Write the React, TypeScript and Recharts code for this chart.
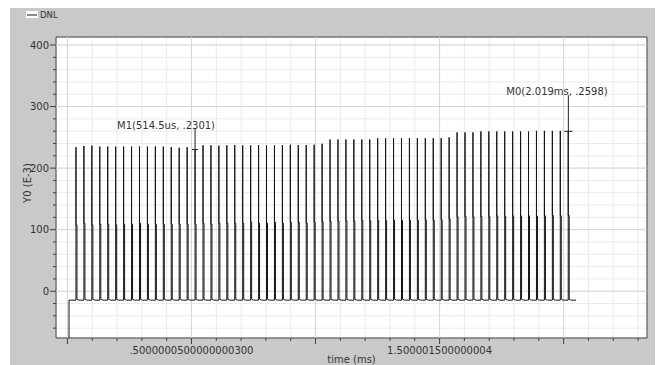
import React from 'react';
import {
  LineChart,
  Line,
  XAxis,
  YAxis,
  CartesianGrid,
  ReferenceLine,
  ReferenceArea,
  ReferenceDot,
  Legend,
} from 'recharts';

// ---------- data ----------
const seriesName = 'DNL';
const xAxisTitle = 'time (ms)';
const yAxisTitle = 'Y0 (E-3)';

// pulse times (ms)
const pulseTimes = [
  0.0345, 0.0665, 0.0985, 0.1305, 0.1625, 0.1945, 0.2265, 0.2585, 0.2905, 0.3225,
  0.3545, 0.3865, 0.4185, 0.4505, 0.4825, 0.5145, 0.5465, 0.5785, 0.6105, 0.6425,
  0.6745, 0.7065, 0.7385, 0.7705, 0.8025, 0.8345, 0.8665, 0.8985, 0.9305, 0.9625,
  0.9945, 1.0265, 1.0585, 1.0905, 1.1225, 1.1545, 1.1865, 1.2185, 1.2505, 1.2825,
  1.3145, 1.3465, 1.3785, 1.4105, 1.4425, 1.4745, 1.5065, 1.5385, 1.5705, 1.6025,
  1.6345, 1.6665, 1.6985, 1.7305, 1.7625, 1.7945, 1.8265, 1.8585, 1.8905, 1.9225,
  1.9545, 1.9865, 2.0185,
];

// tall (thin) spike peaks, E-3
const tallPeaks = [
  234, 236, 236.6, 235, 235, 235, 235, 235, 235, 235,
  235, 235, 234, 233, 234, 230.1, 237, 237, 236.5, 237,
  237.5, 237, 237, 237.5, 237, 237, 237.5, 238, 237.5, 237.5,
  238, 239.5, 246.5, 246.5, 246.5, 246.5, 246.5, 246.5, 248.5, 248.5,
  248.5, 248.5, 248.5, 248.5, 248.5, 248.5, 248.5, 250, 258, 258,
  258, 259.5, 259.5, 259.5, 259.5, 259.5, 259.5, 259.5, 260.5, 260.5,
  260.5, 260.5, 259.8,
];

// thick (lower) pulse levels, E-3
const thickPeaks = [
  107.8, 110.5, 107.8, 108.9, 108.9, 107.8, 108.9, 108.9, 110.5, 108.9,
  108.9, 108.9, 108.9, 108.9, 108.9, 108.9, 110.5, 108.9, 110.5, 110.5,
  110.5, 110.5, 112.2, 110.5, 110.5, 112.2, 110.5, 112.2, 112.2, 110.5,
  112.2, 113, 114, 114, 114.5, 114, 115, 114.5, 115, 115,
  115.5, 115, 115.5, 115.5, 116, 115.5, 116, 117.5, 121, 121.5,
  121, 121.5, 121.5, 122, 121.5, 122, 122, 122.5, 122, 122.5,
  123, 122.5, 123,
];

const baseLevel = -14.5;
const hatLevel = -13;
const startTime = 0.0065;
const endTime = 2.05;

// markers
const markerTimes = [0.5145, 2.019];
const markerValues = [230.1, 259.8];
const markerLabels = ['M1(514.5us, .2301)', 'M0(2.019ms, .2598)'];

// axes
const xDomain = [-0.046, 2.336];
const yDomain = [-76, 413];
const xTicks = [0, 0.1, 0.2, 0.3, 0.4, 0.5, 0.6, 0.7, 0.8, 0.9, 1.0, 1.1, 1.2, 1.3, 1.4, 1.5, 1.6, 1.7, 1.8, 1.9, 2.0, 2.1, 2.2, 2.3];
const xMajorTicks = [0, 0.5, 1.0, 1.5, 2.0];
const xTickLabelValues = [0.5, 1.5];
const xTickLabelTexts = ['.5000000500000000300', '1.500001500000004'];
const yTicks = [-60, -40, -20, 0, 20, 40, 60, 80, 100, 120, 140, 160, 180, 200, 220, 240, 260, 280, 300, 320, 340, 360, 380, 400];
const yMajorTicks = [0, 100, 200, 300, 400];

// ---------- styles ----------
const FONT = '"DejaVu Sans", Verdana, sans-serif';
const TEXT = '#333333';
const PULSE_W = 0.004;
const HAT_W = 0.012;
const markerStyles = [
  { stem: 21, tick: 3, dx: -78, dy: -2.6 },
  { stem: 36, tick: 4, dx: -62, dy: -4.3 },
];

// ---------- table for the library ----------
const waveData: { t: number; v: number }[] = [];
waveData.push({ t: startTime, v: yDomain[0] });
waveData.push({ t: startTime, v: baseLevel });
pulseTimes.forEach((t, i) => {
  waveData.push({ t, v: baseLevel });
  waveData.push({ t, v: tallPeaks[i] });
  waveData.push({ t, v: thickPeaks[i] });
  waveData.push({ t: t + PULSE_W, v: thickPeaks[i] });
  waveData.push({ t: t + PULSE_W, v: hatLevel });
  waveData.push({ t: t + HAT_W, v: baseLevel });
});
waveData.push({ t: endTime, v: baseLevel });

const near = (a: number, b: number) => Math.abs(a - b) < 1e-6;

const XTick = (props: any) => {
  const { x, y, payload } = props;
  const v = payload.value;
  const major = xMajorTicks.some((m) => near(m, v));
  const li = xTickLabelValues.findIndex((m) => near(m, v));
  return (
    <g>
      <line x1={x} x2={x} y1={y} y2={y + (major ? 6 : 3)} stroke="#404040" />
      {li >= 0 && (
        <text x={x} y={y + 12} textAnchor="middle" dominantBaseline="central" fontSize={10} fill={TEXT}>
          {xTickLabelTexts[li]}
        </text>
      )}
    </g>
  );
};

const YTick = (props: any) => {
  const { x, y, payload } = props;
  const v = payload.value;
  const major = yMajorTicks.some((m) => near(m, v));
  return (
    <g>
      <line x1={x - (major ? 6 : 3)} x2={x} y1={y} y2={y} stroke="#404040" />
      {major && (
        <text x={x - 7} y={y} textAnchor="end" dominantBaseline="central" fontSize={10} fill={TEXT}>
          {String(v)}
        </text>
      )}
    </g>
  );
};

const makeMarker = (i: number) => (props: any) => {
  const { cx, cy } = props;
  const s = markerStyles[i];
  const top = cy - s.stem;
  return (
    <g>
      <line x1={cx} x2={cx} y1={top} y2={cy} stroke="#222" />
      <line x1={cx - s.tick} x2={cx + s.tick} y1={cy} y2={cy} stroke="#222" />
      <text x={cx + s.dx} y={top + s.dy} dominantBaseline="central" fontSize={10} fill={TEXT}>
        {markerLabels[i]}
      </text>
    </g>
  );
};

const LegendContent = () => (
  <div style={{ position: 'relative', width: 50, height: 14, fontFamily: FONT }}>
    <div style={{ position: 'absolute', left: 0, top: 3, width: 12, height: 7, background: '#ffffff' }}>
      <div style={{ position: 'absolute', left: 1, right: 1, top: 2.5, height: 2, background: '#8c8c8c' }} />
    </div>
    <span style={{ position: 'absolute', left: 14, top: 0, fontSize: 8.5, lineHeight: '14px', color: TEXT, whiteSpace: 'nowrap' }}>
      {seriesName}
    </span>
  </div>
);

export default function App() {
  return (
    <div
      style={{
        marginLeft: 2,
        width: 647,
        height: 357,
        background: '#c9c9c9',
        fontFamily: FONT,
        position: 'relative',
      }}
    >
      <LineChart width={647} height={357} data={waveData} margin={{ top: 29, right: 10, bottom: 0, left: 0 }}>
        <CartesianGrid stroke="#ebebeb" fill="#ffffff" />
        {xMajorTicks.map((v) => (
          <ReferenceLine key={'gx' + v} x={v} stroke="#d6d6d6" />
        ))}
        {yMajorTicks.map((v) => (
          <ReferenceLine key={'gy' + v} y={v} stroke="#d6d6d6" />
        ))}
        <XAxis
          type="number"
          dataKey="t"
          domain={xDomain}
          allowDataOverflow
          ticks={xTicks}
          interval={0}
          tick={<XTick />}
          tickLine={false}
          axisLine={false}
          tickSize={0}
          tickMargin={0}
          height={27}
          label={{ value: xAxisTitle, position: 'insideBottom', offset: 2, fontSize: 10, fill: TEXT }}
        />
        <YAxis
          type="number"
          domain={yDomain}
          allowDataOverflow
          ticks={yTicks}
          interval={0}
          tick={<YTick />}
          tickLine={false}
          axisLine={false}
          tickSize={0}
          tickMargin={0}
          width={46}
          label={{
            content: () => (
              <text
                x={17}
                y={175}
                transform="rotate(-90 17 175)"
                textAnchor="middle"
                dominantBaseline="central"
                fontSize={10}
                fill={TEXT}
              >
                {yAxisTitle}
              </text>
            ),
          }}
        />
        <Line
          dataKey="v"
          name={seriesName}
          type="linear"
          stroke="#141414"
          strokeWidth={1}
          dot={false}
          activeDot={false}
          isAnimationActive={false}
        />
        <ReferenceArea
          x1={xDomain[0]}
          x2={xDomain[1]}
          y1={yDomain[0]}
          y2={yDomain[1]}
          fill="none"
          fillOpacity={0}
          stroke="#3a3a3a"
          strokeOpacity={1}
        />
        {markerTimes.map((t, i) => (
          <ReferenceDot key={'m' + i} x={t} y={markerValues[i]} shape={makeMarker(i)} />
        ))}
        <Legend
          layout="vertical"
          align="center"
          verticalAlign="middle"
          content={() => <LegendContent />}
          wrapperStyle={{ top: 0, left: 16, width: 50, height: 14 }}
        />
      </LineChart>
    </div>
  );
}
